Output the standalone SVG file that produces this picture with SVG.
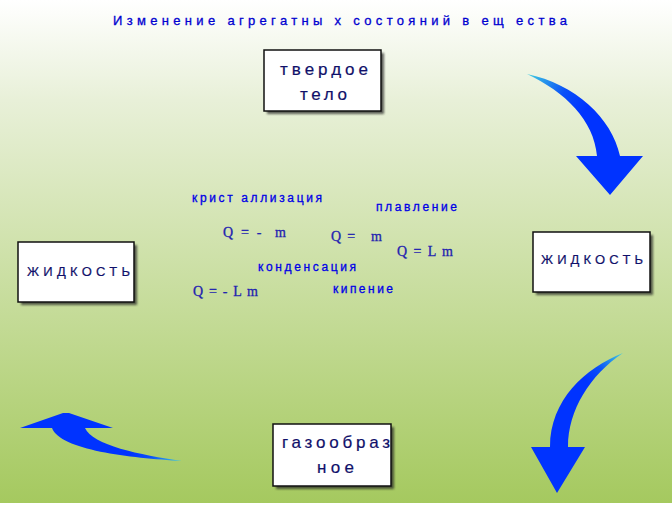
<svg xmlns="http://www.w3.org/2000/svg" width="672" height="519" viewBox="0 0 672 519">
  <defs>
    <linearGradient id="bg" x1="0" y1="0" x2="0" y2="503" gradientUnits="userSpaceOnUse">
      <stop offset="0" stop-color="#ffffff"/>
      <stop offset="0.2" stop-color="#e8f0d8"/>
      <stop offset="1" stop-color="#a5c95f"/>
    </linearGradient>
    <linearGradient id="g1" x1="527" y1="74" x2="585" y2="110" gradientUnits="userSpaceOnUse">
      <stop offset="0" stop-color="#40d0e0"/>
      <stop offset="0.6" stop-color="#0a50f8"/>
      <stop offset="1" stop-color="#0033ff"/>
    </linearGradient>
    <linearGradient id="g2" x1="623" y1="353" x2="590" y2="385" gradientUnits="userSpaceOnUse">
      <stop offset="0" stop-color="#40d0e0"/>
      <stop offset="0.6" stop-color="#0a50f8"/>
      <stop offset="1" stop-color="#0033ff"/>
    </linearGradient>
    <linearGradient id="g3" x1="182" y1="461" x2="130" y2="455" gradientUnits="userSpaceOnUse">
      <stop offset="0" stop-color="#40d0e0"/>
      <stop offset="0.6" stop-color="#0a50f8"/>
      <stop offset="1" stop-color="#0033ff"/>
    </linearGradient>
    <filter id="sh" x="-20%" y="-20%" width="140%" height="140%">
      <feGaussianBlur stdDeviation="1"/>
    </filter>
  </defs>
  <style>
    .box { fill: #ffffff; stroke: #111111; stroke-width: 1.5; }
    .shadow { fill: #222222; opacity: 0.7; filter: url(#sh); }
    .node { font-family: "Liberation Sans", Arial, sans-serif; fill: #10106a; stroke: #10106a; stroke-width: 0.2; }
    .lbl { font-family: "Liberation Sans", Arial, sans-serif; font-size: 12px; fill: #0000e6; stroke: #0000e6; stroke-width: 0.3; white-space: pre; }
    .f { font-family: "Liberation Serif", "Times New Roman", serif; font-size: 14px; fill: #2222b0; stroke: #2222b0; stroke-width: 0.3; white-space: pre; }
    .title { font-family: "Liberation Sans", Arial, sans-serif; font-size: 13px; fill: #0000d0; stroke: #0000d0; stroke-width: 0.3; white-space: pre; }
  </style>
  <rect x="0" y="0" width="672" height="519" fill="#ffffff"/>
  <rect x="0" y="0" width="672" height="503" fill="url(#bg)"/>

  <text class="title" x="113" y="25" textLength="454" lengthAdjust="spacing">Изменение агрегатны х состояний в ещ ества</text>

  <g id="connectors">
    <path id="arrow-top-right" fill="url(#g1)" d="M527,74 C575,84 612,118 620,156 L643,156 L610,195 L576,156 L597,156 C594,120 565,92 527,74 Z"/>
    <path id="arrow-bottom-right" fill="url(#g2)" d="M623,353 C585,368 550,400 550,447 L531,447 L557,493 L585,447 L568,447 C568,410 590,375 623,353 Z"/>
    <path id="arrow-bottom-left" fill="url(#g3)" d="M182,461 C130,458 60,450 52,428 L20,428 L63,413 L69,413 L113,428 L85,428 C92,445 140,455 182,461 Z"/>
  </g>

  <g id="node-solid">
    <rect class="shadow" x="267" y="53" width="117" height="61"/>
    <rect class="box" x="264" y="50" width="117" height="61"/>
    <text class="node" x="280" y="75" font-size="17" textLength="88" lengthAdjust="spacing">твердое</text>
    <text class="node" x="300" y="100" font-size="17" textLength="47" lengthAdjust="spacing">тело</text>
  </g>

  <g id="node-liquid-right">
    <rect class="shadow" x="536" y="235" width="117" height="60"/>
    <rect class="box" x="533" y="232" width="117" height="60"/>
    <text class="node" x="541" y="264" font-size="13" textLength="102" lengthAdjust="spacing">ЖИДКОСТЬ</text>
  </g>

  <g id="node-liquid-left">
    <rect class="shadow" x="21" y="245" width="116" height="60"/>
    <rect class="box" x="18" y="242" width="116" height="60"/>
    <text class="node" x="27" y="276" font-size="13" textLength="103" lengthAdjust="spacing">ЖИДКОСТЬ</text>
  </g>

  <g id="node-gas">
    <rect class="shadow" x="276" y="427" width="118" height="62"/>
    <rect class="box" x="273" y="424" width="118" height="62"/>
    <text class="node" x="282" y="448" font-size="17" textLength="108" lengthAdjust="spacing">газообраз</text>
    <text class="node" x="317" y="473" font-size="17" textLength="37" lengthAdjust="spacing">ное</text>
  </g>

  <g id="labels">
    <text class="lbl" x="192" y="202" textLength="130" lengthAdjust="spacing">крист аллизация</text>
    <text class="f" x="223" y="237" textLength="63" lengthAdjust="spacing">Q = -  m</text>
    <text class="lbl" x="376" y="211" textLength="81" lengthAdjust="spacing">плавление</text>
    <text class="f" x="331" y="241" textLength="51" lengthAdjust="spacing">Q =   m</text>
    <text class="f" x="397" y="256" textLength="56" lengthAdjust="spacing">Q = L m</text>
    <text class="lbl" x="258" y="271" textLength="98" lengthAdjust="spacing">конденсация</text>
    <text class="f" x="193" y="296" textLength="65" lengthAdjust="spacing">Q = - L m</text>
    <text class="lbl" x="333" y="293" textLength="60" lengthAdjust="spacing">кипение</text>
  </g>
</svg>
